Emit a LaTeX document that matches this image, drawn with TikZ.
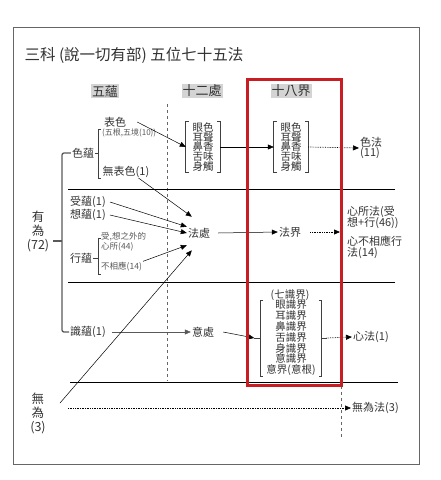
\documentclass[tikz,border=0pt]{standalone}
\usepackage{fontspec}
\setmainfont{Noto Sans CJK TC}
\usetikzlibrary{arrows.meta}
\definecolor{boxred}{RGB}{200,30,35}
\definecolor{hdgray}{RGB}{212,212,212}
\setlength{\lineskiplimit}{-20pt}

\begin{document}
\begin{tikzpicture}[x=1pt,y=-1pt]

\tikzstyle{hd} = [fill=hdgray, inner sep=1pt, text=black!80, font=\fontsize{13}{13}\selectfont]
\tikzstyle{tx} = [inner sep=1pt, text=black!80, font=\fontsize{11}{11}\selectfont]
\tikzstyle{sm} = [inner sep=1pt, text=black!65, align=left, font=\fontsize{8.5}{10}\selectfont]
\tikzstyle{vt} = [inner sep=1pt, text=black!80, align=center, font=\fontsize{12.5}{14}\selectfont]
\tikzstyle{grp} = [inner xsep=6.5pt, inner ysep=1pt, align=center, text=black!80, font=\fontsize{10.5}{9.8}\selectfont]
\tikzstyle{brk} = [draw=black!65, line width=1.3pt]
\tikzstyle{br} = [draw=black!75, line width=0.7pt]
\tikzstyle{ar} = [-{Triangle[length=6pt,width=5pt]}, line width=0.5pt]
\tikzstyle{dar} = [-{Triangle[length=6pt,width=5pt]}, line width=0.7pt, densely dotted]
\tikzstyle{sep} = [line width=0.8pt]
\tikzstyle{vd} = [draw=black!60, line width=0.4pt, dashed]

\useasboundingbox (0,0) rectangle (441,480);
\draw[black!60, line width=0.8pt] (13,27) rectangle (419,464);

\node (title) [anchor=west, text=black!80, font=\fontsize{15.5}{15.5}\selectfont] at (21,55) {三科 (說一切有部) 五位七十五法};

% columns and rows
\draw[vd] (167,104) -- (167,381);
\draw[vd] (247,104) -- (247,385);
\draw[vd] (341,104) -- (341,437);
\draw[sep] (68,189) -- (395,189);
\draw[sep] (68,282) -- (395,282);
\draw[sep] (70,382) -- (398,382);

\node (h5) [hd] at (105,91) {五蘊};
\node (h12) [hd] at (202,91) {十二處};
\node (h18) [hd] at (291,91) {十八界};

% youwei
\node (yw) [vt] at (38,231) {有\\為\\(72)};
\node (seyun) [tx] at (83,153) {色蘊};
\node (shiyun) [tx, anchor=west] at (69,332) {識蘊(1)};
\draw[brk, rounded corners=2pt] (seyun.west) -| (62,241) |- (shiyun.west);
\draw[brk] (53,241) -- (62,241);

\draw[br] (seyun.east) -- (98,153);
\draw[br] (101,129) -- (98,129) -- (98,178) -- (101,178);
\node (bs) [tx] at (115,122) {表色};
\node (wj) [sm, anchor=west, font=\fontsize{8}{8}\selectfont] at (101,133) {(五根,五境(10))};
\node (wbs) [tx] at (126,172) {無表色(1)};

\node (g12) [grp] at (203,147) {眼色\\耳聲\\鼻香\\舌味\\身觸};
\draw[br] ([xshift=3pt]g12.north west) -- (g12.north west) -- (g12.south west) -- ([xshift=3pt]g12.south west);
\draw[br] ([xshift=-3pt]g12.north east) -- (g12.north east) -- (g12.south east) -- ([xshift=-3pt]g12.south east);
\node (g18a) [grp] at (291,147) {眼色\\耳聲\\鼻香\\舌味\\身觸};
\draw[br] ([xshift=3pt]g18a.north west) -- (g18a.north west) -- (g18a.south west) -- ([xshift=3pt]g18a.south west);
\draw[br] ([xshift=-3pt]g18a.north east) -- (g18a.north east) -- (g18a.south east) -- ([xshift=-3pt]g18a.south east);
\node (sefa) [tx, anchor=west, align=left, font=\fontsize{11}{10.5}\selectfont] at (359,148) {色法\\(11)};

\draw[ar] ([xshift=10pt]bs.east) -- (g12.west);
\draw[ar] (g12.east) -- (g18a.west);
\draw[dar] (g18a.east) -- (sefa.west);

% xin suo
\node (shou) [tx, anchor=west] at (69,202) {受蘊(1)};
\node (xiang) [tx, anchor=west] at (69,215) {想蘊(1)};
\node (xing) [tx, anchor=west] at (69,258) {行蘊};
\draw[br] (xing.east) -- (98,258);
\draw[br] (101,238) -- (98,238) -- (98,274) -- (101,274);
\node (xa) [sm, anchor=west] at (100,242) {受,想之外的\\心所(44)};
\node (xb) [sm, anchor=west] at (100,267) {不相應(14)};

\node (fachu) [tx] at (199,233) {法處};
\node (fajie) [tx] at (290,232) {法界};
\coordinate (fj) at (340,232);
\node (xinsuo) [tx, anchor=west, align=left] at (346,217) {心所法(受\\想+行(46))};
\node (xinbu) [tx, anchor=west, align=left] at (346,247) {心不相應行\\法(14)};

\draw[ar] ([xshift=-12pt,yshift=-6pt]wbs.east) -- ([xshift=5pt,yshift=10pt]fachu.north west);
\draw[ar] ([xshift=3pt]shou.east) -- (fachu.north west);
\draw[ar] ([xshift=3pt]xiang.east) -- (fachu.west);
\draw[ar] (xb.north east) -- ([yshift=-6pt]fachu.south west);
\draw[ar] ([xshift=7pt]fachu.east) -- (fajie.west);
\draw[dar] ([xshift=8pt]fajie.east) -- (fj);

% xin
\node (yichu) [tx] at (203,332) {意處};
\node (qishi) [tx, font=\fontsize{10.5}{10.5}\selectfont] at (290,295) {(七識界)};
\node (g18b) [grp, inner xsep=6pt, inner ysep=0pt, font=\fontsize{10.5}{10.8}\selectfont] at (291,338) {眼識界\\耳識界\\鼻識界\\舌識界\\身識界\\意識界\\意界(意根)};
\draw[br] ([xshift=3pt]g18b.north west) -- (g18b.north west) -- (g18b.south west) -- ([xshift=3pt]g18b.south west);
\draw[br] ([xshift=-3pt]g18b.north east) -- (g18b.north east) -- (g18b.south east) -- ([xshift=-3pt]g18b.south east);
\draw[br] (g18b.west) -- ([xshift=-6pt]g18b.west);
\draw[br] (g18b.east) -- ([xshift=5pt]g18b.east);
\node (xinfa) [tx, anchor=west] at (352,337) {心法(1)};

\draw[ar, black!65] ([xshift=5pt]shiyun.east) -- (yichu.west);
\draw[ar] ([xshift=8pt]yichu.east) -- ([xshift=-6pt]g18b.west);
\draw[dar] ([xshift=5pt]g18b.east) -- (xinfa.west);

% wuwei
\node (wuwei) [vt] at (38,413) {無\\為\\(3)};
\node (wwf) [tx, anchor=west] at (351,408) {無為法(3)};
\coordinate (wl) at (68,408);
\coordinate (ws) at (60,403);
\draw[dar, line width=0.6pt] (wl) -- (wwf.west);
\draw[ar] (ws) -- ([xshift=5pt,yshift=-11pt]fachu.south west);

\draw[boxred, line width=3pt] (247,79) rectangle (341,385);

\end{tikzpicture}
\end{document}
